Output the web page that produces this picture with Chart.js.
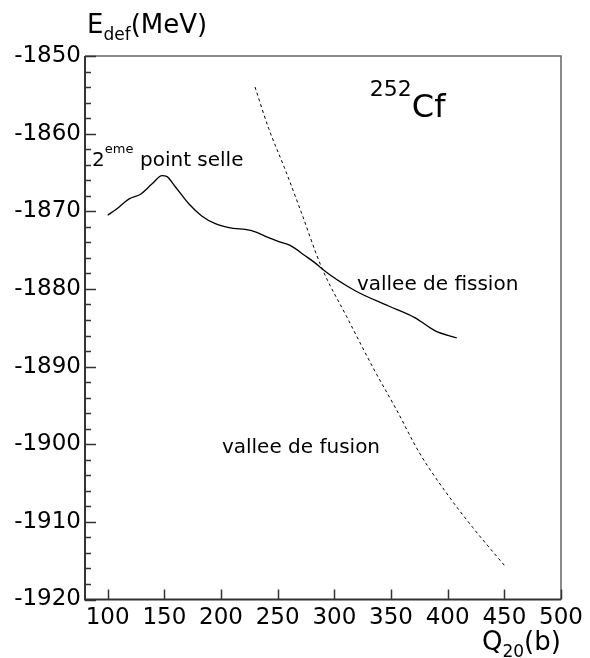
<!DOCTYPE html>
<html><head><meta charset="utf-8">
<script src="https://cdn.jsdelivr.net/npm/chart.js@4/dist/chart.umd.min.js"></script>
<style>html,body{margin:0;padding:0;background:#fff;overflow:hidden}#wrap{width:590px;height:658px}</style>
</head><body><div id="wrap"><canvas id="c" width="590" height="658"></canvas></div>
<script>
// fission valley (solid)
const fissionQ = [100, 107, 119, 129, 139, 148, 152, 160, 172, 183, 195, 207, 227, 242, 251, 261, 274, 286, 289, 318, 348, 371, 389, 408];
const fissionE = [-1870.5, -1869.8, -1868.4, -1867.8, -1866.5, -1865.4, -1865.5, -1866.9, -1869.1, -1870.6, -1871.6, -1872.1, -1872.5, -1873.4, -1873.9, -1874.4, -1875.7, -1877.0, -1877.4, -1880.2, -1882.2, -1883.7, -1885.4, -1886.3];
// fusion valley (dashed)
const fusionQ = [230, 242, 256, 270, 289, 311, 334, 355, 375, 399, 422, 450];
const fusionE = [-1854, -1859.3, -1864.4, -1869.8, -1877.3, -1883.6, -1890.1, -1895.6, -1901.1, -1906.3, -1910.7, -1915.6];
// axis ticks
const xTicks = [100, 150, 200, 250, 300, 350, 400, 450, 500];
const yTicks = [-1920, -1910, -1900, -1890, -1880, -1870, -1860, -1850];
const yMinorStep = 2;

const FONT = '"DejaVu Sans", sans-serif';

function pts(xs, ys) { return xs.map((x, i) => ({ x: x, y: ys[i] })); }

const decor = {
  id: 'decor',
  afterDraw(chart) {
    const ctx = chart.ctx, xs = chart.scales.x, ys = chart.scales.y, a = chart.chartArea;
    ctx.save();
    // frame top/right
    ctx.strokeStyle = '#666'; ctx.lineWidth = 1.5;
    ctx.beginPath(); ctx.moveTo(a.left, a.top); ctx.lineTo(a.right, a.top); ctx.lineTo(a.right, a.bottom); ctx.stroke();
    // ticks (pointing into the plot)
    ctx.strokeStyle = '#333'; ctx.lineWidth = 1.5;
    ctx.beginPath();
    for (let v = ys.min; v <= ys.max + 1e-9; v += yMinorStep) {
      const p = Math.round(ys.getPixelForValue(v)) + 0.5;
      const len = yTicks.includes(Math.round(v)) ? 11 : 6;
      ctx.moveTo(a.left, p); ctx.lineTo(a.left + len, p);
    }
    xTicks.forEach(v => {
      const p = Math.round(xs.getPixelForValue(v)) + 0.5;
      ctx.moveTo(p, a.bottom); ctx.lineTo(p, a.bottom - 10);
    });
    ctx.stroke();
    // left & bottom axis
    ctx.strokeStyle = '#333'; ctx.lineWidth = 2;
    ctx.beginPath(); ctx.moveTo(a.left, a.top); ctx.lineTo(a.left, a.bottom); ctx.lineTo(a.right, a.bottom); ctx.stroke();

    ctx.fillStyle = '#000'; ctx.textBaseline = 'alphabetic'; ctx.textAlign = 'left';
    function run(parts, x, y) {
      parts.forEach(p => {
        ctx.font = p[1] + 'px ' + FONT;
        ctx.fillText(p[0], x, y + p[2]);
        x += ctx.measureText(p[0]).width + (p[3] || 0);
      });
    }
    // axis titles
    run([['E', 26, 0], ['def', 17, 7], ['(MeV)', 26, 0]], 87, 33);
    run([['Q', 26, 0], ['20', 17, 7], ['(b)', 26, 0]], 482, 650);
    // annotations (data coordinates)
    const X = v => xs.getPixelForValue(v), Y = v => ys.getPixelForValue(v);
    run([['2', 20, 0], ['eme', 13, -13]], X(86.2), Y(-1864.17));
    ctx.font = '20px ' + FONT; ctx.fillText('point selle', X(128.5), Y(-1864.17));
    run([['252', 22, 0], ['Cf', 32, 21]], X(331.3), Y(-1855.15));
    ctx.font = '20px ' + FONT;
    ctx.fillText('vallee de fission', X(319.9), Y(-1880.14));
    ctx.fillText('vallee de fusion', X(200.8), Y(-1901.13));
    ctx.restore();
  }
};

new Chart(document.getElementById('c'), {
  type: 'scatter',
  data: {
    datasets: [
      { label: 'fission', data: pts(fissionQ, fissionE), showLine: true, borderColor: '#000', borderWidth: 1.3, pointRadius: 0, tension: 0.4, cubicInterpolationMode: 'monotone', fill: false },
      { label: 'fusion', data: pts(fusionQ, fusionE), showLine: true, borderColor: '#000', borderWidth: 1, borderDash: [3, 3], pointRadius: 0, tension: 0.4, cubicInterpolationMode: 'monotone', fill: false }
    ]
  },
  options: {
    responsive: false, animation: false, devicePixelRatio: 1,
    layout: { padding: { top: 56, right: 29, left: 0, bottom: 0 } },
    plugins: { legend: { display: false }, tooltip: { enabled: false }, title: { display: false } },
    scales: {
      x: {
        type: 'linear', position: 'bottom', min: 80, max: 500,
        afterBuildTicks: s => { s.ticks = xTicks.map(v => ({ value: v })); },
        afterFit: s => { s.height = 58.5; },
        grid: { display: false, drawTicks: false }, border: { display: false },
        ticks: { font: { family: FONT, size: 23 }, color: '#000', padding: 5, maxRotation: 0, autoSkip: false, callback: v => String(v) }
      },
      y: {
        type: 'linear', min: -1920, max: -1850,
        afterBuildTicks: s => { s.ticks = yTicks.map(v => ({ value: v })); },
        afterFit: s => { s.width = 85; },
        grid: { display: false, drawTicks: false }, border: { display: false },
        ticks: { font: { family: FONT, size: 23 }, color: '#000', padding: 4, autoSkip: false, callback: v => String(v) }
      }
    }
  },
  plugins: [decor]
});
</script>
</body></html>
